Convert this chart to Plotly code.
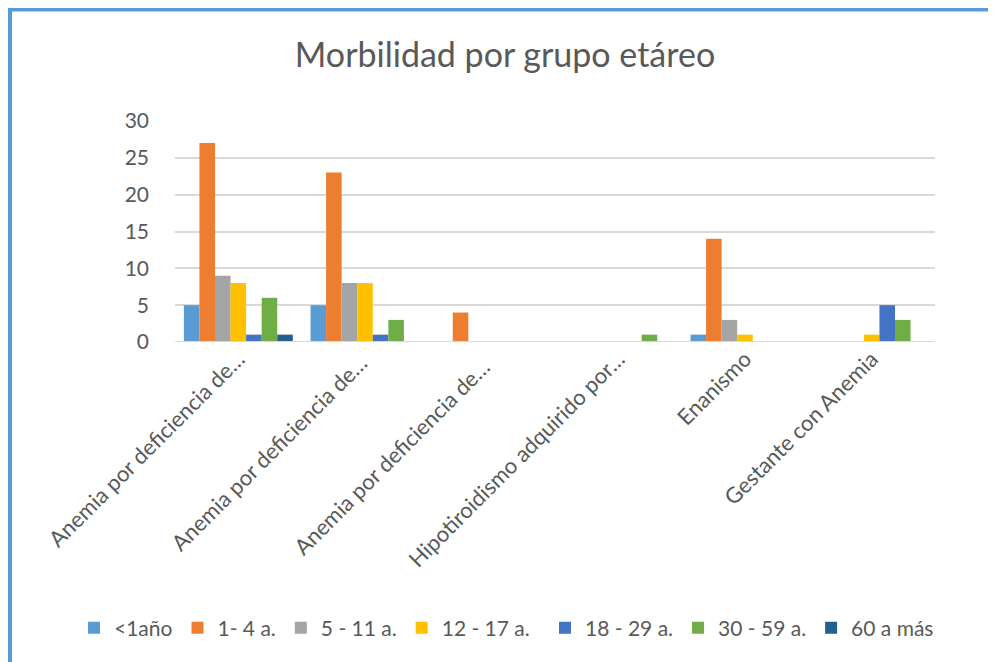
import plotly.graph_objects as go

categories = [
    "Anemia por deficiencia de…",
    "Anemia por deficiencia de… ",
    "Anemia por deficiencia de…  ",
    "Hipotiroidismo adquirido por…",
    "Enanismo",
    "Gestante con Anemia",
]
series_names = ["<1año", "1- 4 a.", "5 - 11 a.", "12 - 17 a.", "18 - 29 a.", "30 - 59 a.", "60 a más"]
s_lt1 = [5, 5, 0, 0, 1, 0]
s_1_4 = [27, 23, 4, 0, 14, 0]
s_5_11 = [9, 8, 0, 0, 3, 0]
s_12_17 = [8, 8, 0, 0, 1, 1]
s_18_29 = [1, 1, 0, 0, 0, 5]
s_30_59 = [6, 3, 0, 1, 0, 3]
s_60 = [1, 0, 0, 0, 0, 0]
series_values = [s_lt1, s_1_4, s_5_11, s_12_17, s_18_29, s_30_59, s_60]
colors = ["#5B9BD5", "#ED7D31", "#A5A5A5", "#FFC000", "#4472C4", "#70AD47", "#255E91"]
y_ticks = [0, 5, 10, 15, 20, 25, 30]

FONT = "Lato"
fig = go.Figure()
for i, (name, vals, col) in enumerate(zip(series_names, series_values, colors)):
    fig.add_trace(go.Bar(x=categories, y=vals, name=name, marker=dict(color=col, line=dict(width=0)),
                         legend="legend" if i < 4 else "legend2"))

# page is rendered with an 8px body offset; figure coordinates below are compensated
W, H = 996, 662
L, R, T, B = 167, 69, 113, 328
pw, ph = W - L - R, H - T - B

def px2x(px):
    return (px - L) / pw

def py2y(py):
    return (H - B - py) / ph

legend_style = dict(orientation="h", yanchor="middle", y=py2y(620), xanchor="left",
                    font=dict(size=21, color="#595959"), traceorder="normal",
                    bgcolor="rgba(0,0,0,0)")

fig.update_layout(
    width=W, height=H,
    margin=dict(l=L, r=R, t=T, b=B, autoexpand=False),
    paper_bgcolor="white", plot_bgcolor="white",
    barmode="group", bargap=0.14, bargroupgap=0,
    font=dict(family=FONT, color="#595959"),
    title=dict(text="Morbilidad por grupo etáreo", x=(497 / W), xref="container", xanchor="center",
               y=1 - 47 / H, yref="container", yanchor="middle",
               font=dict(size=34, color="#595959", family=FONT)),
    xaxis=dict(tickangle=-45, tickfont=dict(size=22, color="#595959"), showline=False,
               showgrid=False, ticks="", automargin=False, ticklabelstandoff=-1),
    yaxis=dict(range=[0, 30], tickvals=y_ticks, tickfont=dict(size=21, color="#595959"),
               gridcolor="#D9D9D9", gridwidth=2, zeroline=False, showline=False, ticks="",
               ticklen=0, ticklabelstandoff=25, automargin=False),
    legend=dict(legend_style, x=px2x(66)),
    legend2=dict(legend_style, x=px2x(537)),
    showlegend=True,
)
fig.update_yaxes(showgrid=True)
fig.add_hline(y=0, line=dict(color="#D9D9D9", width=2))

# outer blue frame (top and left edges)
fig.add_shape(type="line", xref="paper", yref="paper", x0=px2x(2), x1=px2x(1000), y0=py2y(1), y1=py2y(1),
              line=dict(color="#5B9BD5", width=5))
fig.add_shape(type="line", xref="paper", yref="paper", x0=px2x(2), x1=px2x(2), y0=py2y(0), y1=py2y(665),
              line=dict(color="#5B9BD5", width=4))

fig.write_html("out.html")
